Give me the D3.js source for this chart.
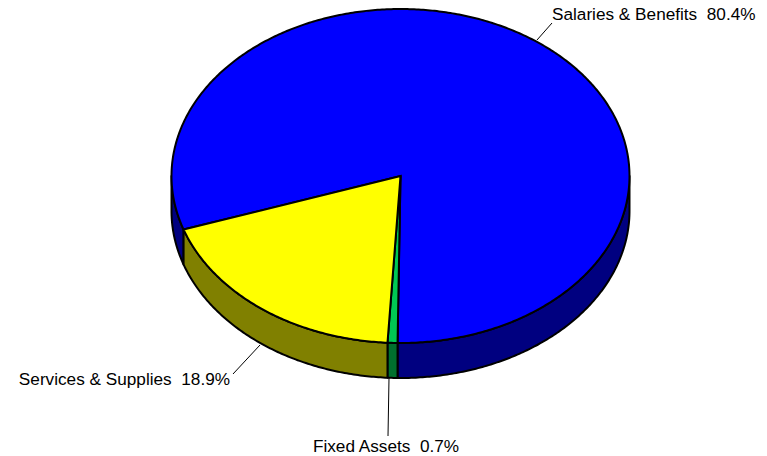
<!DOCTYPE html>
<html>
<head>
<meta charset="utf-8">
<script src="https://cdn.jsdelivr.net/npm/d3@7"></script>
<style>
  html, body { margin: 0; padding: 0; background: #fff; }
  svg { display: block; }
  text { font-family: "Liberation Sans", Arial, sans-serif; font-size: 17.2px; fill: #000; }
</style>
</head>
<body>
<svg id="chart" width="767" height="456"></svg>
<script>
// Budget split, in percent, listed clockwise around the pie
const categories = ["Salaries & Benefits", "Fixed Assets", "Services & Supplies"];
const shares = [80.4, 0.7, 18.9];
const topColors = ["#0000ff", "#00c853", "#ffff00"];
const sideColors = ["#000080", "#00702e", "#808000"];

const W = 767, H = 456;
const cx = 400.5, cy = 176, rx = 229, ry = 167, depth = 35;
const startDeg = 251.3;

const svg = d3.select("#chart");

const pie = d3.pie()
  .sort(null)
  .value(d => d.value)
  .startAngle(startDeg * Math.PI / 180)
  .endAngle(startDeg * Math.PI / 180 + 2 * Math.PI);

const data = categories.map((c, i) => ({ name: c, value: shares[i], top: topColors[i], side: sideColors[i] }));
const arcs = pie(data);

// d3 pie angle (clockwise from 12 o'clock) -> point on the tilted ellipse
const px = a => cx + rx * Math.sin(a);
const py = (a, dz = 0) => cy - ry * Math.cos(a) + dz;

function ellipseArc(a0, a1, dz, steps) {
  const pts = [];
  const n = Math.max(2, steps || Math.ceil(Math.abs(a1 - a0) / 0.01));
  for (let i = 0; i <= n; i++) {
    const a = a0 + (a1 - a0) * i / n;
    pts.push([px(a), py(a, dz)]);
  }
  return pts;
}

const line = d3.line();

// Side walls: only the front half of the rim (pointing toward the viewer) shows
const sideG = svg.append("g");
arcs.forEach(d => {
  for (let k = 0; k < 3; k++) {
    const lo = Math.PI / 2 + 2 * Math.PI * k;
    const hi = 3 * Math.PI / 2 + 2 * Math.PI * k;
    const a0 = Math.max(d.startAngle, lo);
    const a1 = Math.min(d.endAngle, hi);
    if (a1 <= a0) continue;
    const topEdge = ellipseArc(a0, a1, 0);
    const botEdge = ellipseArc(a1, a0, depth);
    sideG.append("path")
      .attr("d", line(topEdge.concat(botEdge)) + "Z")
      .attr("fill", d.data.side)
      .attr("stroke", "#000")
      .attr("stroke-width", 2)
      .attr("stroke-linejoin", "round");
  }
});

// Top faces
const topG = svg.append("g");
arcs.forEach(d => {
  const edge = ellipseArc(d.startAngle, d.endAngle, 0);
  topG.append("path")
    .attr("d", line([[cx, cy]].concat(edge)) + "Z")
    .attr("fill", d.data.top)
    .attr("stroke", "#000")
    .attr("stroke-width", 2)
    .attr("stroke-linejoin", "miter");
});

// Labels with leader lines
const fmt = d3.format(".1f");
const labels = [
  { i: 0, from: [537, 40], to: [552, 23], tx: 552, ty: 20, anchor: "start" },
  { i: 1, from: [389, 378], to: [388, 436], tx: 386, ty: 452, anchor: "middle" },
  { i: 2, from: [260, 345], to: [233, 374], tx: 230, ty: 385, anchor: "end" }
];
const labG = svg.append("g");
labels.forEach(l => {
  labG.append("line")
    .attr("x1", l.from[0]).attr("y1", l.from[1])
    .attr("x2", l.to[0]).attr("y2", l.to[1])
    .attr("stroke", "#000").attr("stroke-width", 1);
  labG.append("text")
    .attr("x", l.tx).attr("y", l.ty)
    .attr("text-anchor", l.anchor)
    .attr("xml:space", "preserve")
    .text(categories[l.i] + "  " + fmt(shares[l.i]) + "%");
});
</script>
</body>
</html>
